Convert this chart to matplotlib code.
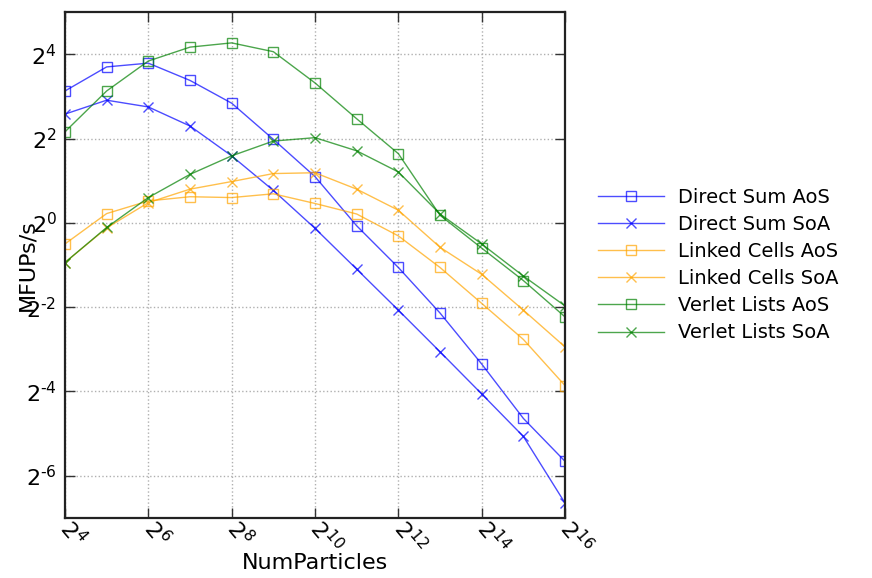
import numpy as np
import matplotlib
matplotlib.use('Agg')
import matplotlib.pyplot as plt
from matplotlib.ticker import FuncFormatter, NullLocator

# particle counts 2^4 .. 2^16
num_particles = [16, 32, 64, 128, 256, 512, 1024, 2048, 4096, 8192, 16384, 32768, 65536]

# throughput in MFUPs/s
ds_aos = [8.75, 13.0, 13.83, 10.41, 7.16, 3.95, 2.14, 0.953, 0.480, 0.227, 0.0981, 0.0401, 0.0198]
ds_soa = [5.98, 7.52, 6.73, 4.92, 3.01, 1.705, 0.914, 0.467, 0.238, 0.120, 0.0600, 0.0298, 0.00996]
lc_aos = [0.707, 1.165, 1.434, 1.537, 1.516, 1.613, 1.376, 1.157, 0.807, 0.480, 0.266, 0.147, 0.0688]
lc_soa = [0.521, 0.920, 1.395, 1.741, 1.973, 2.25, 2.28, 1.741, 1.231, 0.669, 0.429, 0.238, 0.130]
vl_aos = [4.47, 8.75, 14.32, 18.0, 19.3, 16.7, 9.99, 5.54, 3.12, 1.133, 0.660, 0.387, 0.213]
vl_soa = [0.521, 0.927, 1.516, 2.22, 3.01, 3.84, 4.06, 3.27, 2.31, 1.157, 0.707, 0.417, 0.255]

series = [
    ('Direct Sum AoS', ds_aos, 'b', 's'),
    ('Direct Sum SoA', ds_soa, 'b', 'x'),
    ('Linked Cells AoS', lc_aos, 'orange', 's'),
    ('Linked Cells SoA', lc_soa, 'orange', 'x'),
    ('Verlet Lists AoS', vl_aos, 'g', 's'),
    ('Verlet Lists SoA', vl_soa, 'g', 'x'),
]


def pow2(v, pos):
    # 2^k labels with a plain hyphen for negative exponents
    k = int(round(np.log2(v)))
    e = str(k) if k >= 0 else r'\text{-}' + str(-k)
    return r'$\mathdefault{2^{%s}}$' % e


fig = plt.figure(figsize=(8.72, 5.78), dpi=100)
ax = fig.add_axes([0.0745, 0.104, 0.5735, 0.875])

for label, vals, col, mk in series:
    ax.plot(num_particles, vals, color=col, marker=mk, mfc='none', mec=col,
            ms=7, mew=1.0, lw=1.0, alpha=0.7, label=label)

ax.set_xscale('log', base=2)
ax.set_yscale('log', base=2)
ax.set_xlim(2**4, 2**16)
ax.set_ylim(2**-7, 2**5)
ax.set_xticks([2**k for k in range(4, 17, 2)])
ax.set_yticks([2**k for k in range(-6, 5, 2)])
ax.xaxis.set_major_formatter(FuncFormatter(pow2))
ax.yaxis.set_major_formatter(FuncFormatter(pow2))
ax.xaxis.set_minor_locator(NullLocator())
ax.yaxis.set_minor_locator(NullLocator())

ax.tick_params(which='major', direction='in', length=7, width=1,
               top=True, right=True, labelsize=16, color='#333333')
ax.tick_params(axis='y', pad=6)
ax.tick_params(axis='x', pad=4)
for lab in ax.get_xticklabels():
    lab.set_rotation(-50)
    lab.set_rotation_mode('anchor')
    lab.set_ha('left')
    lab.set_va('center')

for sp in ax.spines.values():
    sp.set_linewidth(1.6)
    sp.set_color('#222222')

ax.grid(True, linestyle=':', color='#b0b0b0', linewidth=1)

ax.set_xlabel('NumParticles', fontsize=16)
ax.set_ylabel('MFUPs/s', fontsize=16)
ax.xaxis.set_label_coords(0.5, -0.07)
ax.yaxis.set_label_coords(-0.056, 0.5)

ax.legend(loc='center left', bbox_to_anchor=(1.03, 0.5), frameon=False,
          fontsize=14, handlelength=3.4, handletextpad=0.75, labelspacing=0.42,
          numpoints=1)

fig.savefig('out.png', dpi=100)
